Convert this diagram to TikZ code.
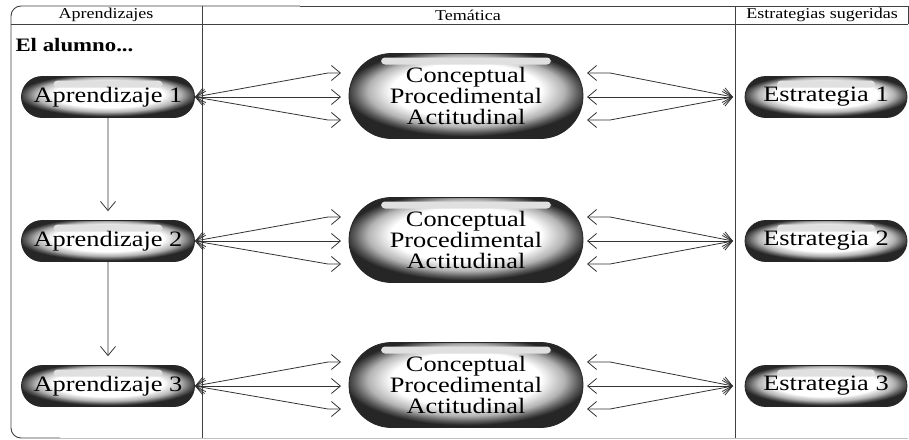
\documentclass[tikz,border=0pt]{standalone}
\usepackage{fontspec}
\setmainfont[FakeStretch=1.2]{Liberation Serif}
\usetikzlibrary{shapes.misc, arrows.meta}
\pgfdeclareradialshading{pille}{\pgfpoint{0bp}{5bp}}{color(0bp)=(white); color(16bp)=(white); color(21bp)=(black!30); color(24bp)=(black!65); color(26bp)=(black!85); color(50bp)=(black!85)}

\begin{document}
\begin{tikzpicture}[x=1pt, y=-1pt,
	pille/.style={rounded rectangle, draw=black!85, line width=0.8pt, shading=pille, inner sep=0pt, align=center,
		font=\fontsize{22}{21}\selectfont,
		path picture={\fill[black!12, rounded corners=4pt] ([xshift=32pt,yshift=-4pt]path picture bounding box.north west) rectangle ([xshift=-32pt,yshift=-11pt]path picture bounding box.north east);}},
	pfeil/.style={line width=0.8pt, black!80},
	>={Straight Barb[length=9pt, width=15pt]},
	font=\fontsize{15}{17}\selectfont]
	\useasboundingbox (0,0) rectangle (909,439);
	%Rahmen zeichnen
	\draw[black!75, line width=0.9pt, rounded corners=10pt] (300,6) -- (11,6) -- (11,438) -- (60,438);
	\draw[black!75, line width=0.9pt] (300,6) -- (908,6) -- (908,24);
	\draw[black!25, line width=0.9pt] (60,438) -- (908,438);
	% Spalten
	\draw[black!75, line width=0.9pt] (11,24) -- (908,24);
	\draw[black!75, line width=0.9pt] (202,6) -- (202,438);
	\draw[black!75, line width=0.9pt] (735,6) -- (735,438);
	% Kopfzeile
	\node (kopfA) at (106,15) {Aprendizajes};
	\node (kopfT) at (468,15) {Temática};
	\node (kopfE) at (822,15) {Estrategias sugeridas};
	\node[anchor=west, font=\fontsize{19}{21}\selectfont\bfseries] (alumno) at (12,45) {El alumno...};
	%Zeilen zeichnen
	\foreach \i/\y in {1/97, 2/241, 3/386} {
		\node[pille, minimum width=173pt, minimum height=41pt] (apr\i) at (108,\y) {Aprendizaje \i};
		\node[pille, minimum width=234pt, minimum height=85pt] (tem\i) at (466,\y-1) {Conceptual\\Procedimental\\Actitudinal};
		\node[pille, minimum width=162pt, minimum height=41pt] (est\i) at (826,\y) {Estrategia \i};
		% Pfeilenden
		\coordinate (la\i) at (341,\y-24);
		\coordinate (lb\i) at (341,\y);
		\coordinate (lc\i) at (341,\y+23);
		\coordinate (ra\i) at (587,\y-24);
		\coordinate (rb\i) at (587,\y);
		\coordinate (rc\i) at (587,\y+23);
		\coordinate (re\i) at (733,\y);
		% Pfeile links
		\draw[pfeil, <->] (apr\i.east) -- ([xshift=-13pt]la\i) -- (la\i);
		\draw[pfeil, <->] (apr\i.east) -- (lb\i);
		\draw[pfeil, <->] (apr\i.east) -- ([xshift=-13pt]lc\i) -- (lc\i);
		% Pfeile rechts
		\draw[pfeil, <->] (ra\i) -- ([xshift=23pt]ra\i) -- (re\i);
		\draw[pfeil, <->] (rb\i) -- (re\i);
		\draw[pfeil, <->] (rc\i) -- ([xshift=23pt]rc\i) -- (re\i);
	}
	% Abfolge
	\draw[pfeil, ->, shorten >=9pt] (apr1) -- (apr2);
	\draw[pfeil, ->, shorten >=9pt] (apr2) -- (apr3);
\end{tikzpicture}
\end{document}
